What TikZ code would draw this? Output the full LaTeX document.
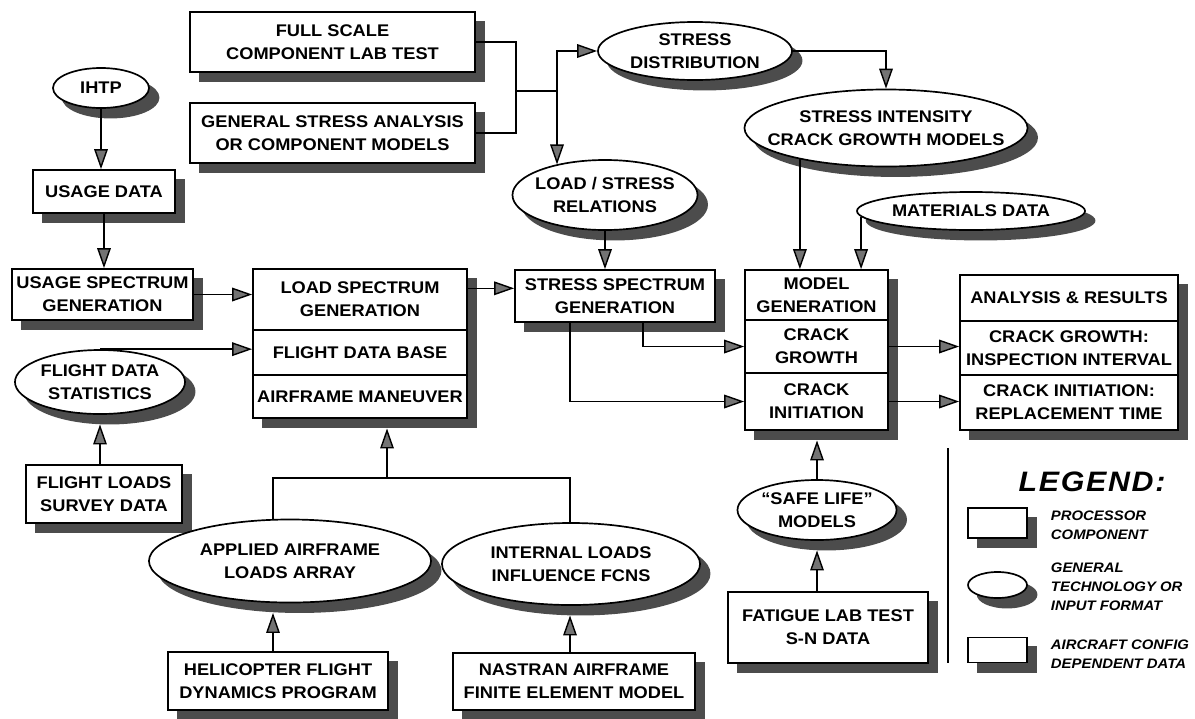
\documentclass[tikz,border=0pt]{standalone}
\usepackage{fontspec}
\setmainfont{Liberation Sans}[FakeStretch=1.08]
\usetikzlibrary{
    arrows.meta,      % For arrow tips
    shapes.geometric, % For the ellipses
    calc,             % For shadow radii
    backgrounds       % For shadows behind the nodes
}

\begin{document}
\begin{tikzpicture}[
    x=0.025cm, y=-0.025cm,
    font=\fontsize{12}{16.5}\selectfont\bfseries,
    >={Triangle[length=5mm, width=3.4mm, fill=black!55]}, % Set default arrow tip style
    shadowfill/.style={fill=black!70},
    box/.style={draw, line width=1.2pt, fill=white, align=center, inner sep=2pt}, % processor
    oval/.style={ellipse, draw, line width=1.2pt, fill=white, inner sep=0pt},   % technology
    txt/.style={align=center},
    link/.style={line width=1pt},
    arr/.style={->, line width=1pt},
    legtext/.style={anchor=west, align=left, font=\fontsize{9.8}{13.5}\selectfont\bfseries\itshape}
]
    \useasboundingbox (0,0) rectangle (1195,718);

    % Stress inputs at the top
    \node[box, minimum width=7.125cm, minimum height=1.5cm] (fst) at (332.5,42) {FULL SCALE\\COMPONENT LAB TEST};
    \node[box, minimum width=7.125cm, minimum height=1.5cm] (gsa) at (332.5,133) {GENERAL STRESS ANALYSIS\\OR COMPONENT MODELS};
    \node[oval, minimum width=4.85cm, minimum height=1.45cm, label={[txt]center:STRESS\\DISTRIBUTION}] (sd) at (695,51) {};
    \node[oval, minimum width=7.075cm, minimum height=1.925cm, label={[txt]center:STRESS INTENSITY\\CRACK GROWTH MODELS}] (si) at (886,128) {};
    \node[oval, minimum width=4.625cm, minimum height=1.75cm, label={[txt]center:LOAD / STRESS\\RELATIONS}] (lsr) at (605,195) {};
    \node[oval, minimum width=5.7cm, minimum height=0.95cm, label={[txt]center:MATERIALS DATA}] (md) at (971,211) {};

    % Usage side
    \node[oval, minimum width=2.4cm, minimum height=1.0cm, label={[txt]center:IHTP}] (ihtp) at (101,88) {};
    \node[box, minimum width=3.55cm, minimum height=1.075cm] (ud) at (104,191.5) {USAGE DATA};
    \node[box, minimum width=4.525cm, minimum height=1.275cm] (usg) at (102.5,294.5) {USAGE SPECTRUM\\GENERATION};
    \node[oval, minimum width=4.25cm, minimum height=1.6cm, label={[txt]center:FLIGHT DATA\\STATISTICS}] (fds) at (100,382) {};
    \node[box, minimum width=3.9cm, minimum height=1.45cm] (fls) at (104,494) {FLIGHT LOADS\\SURVEY DATA};

    % Load spectrum stack
    \node[box, minimum width=5.35cm, minimum height=1.525cm] (lsg) at (360,299.5) {LOAD SPECTRUM\\GENERATION};
    \node[box, minimum width=5.35cm, minimum height=1.125cm] (fdb) at (360,352.5) {FLIGHT DATA BASE};
    \node[box, minimum width=5.35cm, minimum height=1.075cm] (afm) at (360,396.5) {AIRFRAME MANEUVER};

    \node[box, minimum width=5cm, minimum height=1.3cm] (ssg) at (615,296) {STRESS SPECTRUM\\GENERATION};

    % Model stack
    \node[box, minimum width=3.575cm, minimum height=1.25cm] (mg) at (816.5,295) {MODEL\\GENERATION};
    \node[box, minimum width=3.575cm, minimum height=1.325cm] (cg) at (816.5,346.5) {CRACK\\GROWTH};
    \node[box, minimum width=3.575cm, minimum height=1.425cm] (ci) at (816.5,401.5) {CRACK\\INITIATION};

    % Results stack
    \node[box, minimum width=5.45cm, minimum height=1.15cm] (ar) at (1069,298) {ANALYSIS \& RESULTS};
    \node[box, minimum width=5.45cm, minimum height=1.35cm] (cgi) at (1069,348) {CRACK GROWTH:\\INSPECTION INTERVAL};
    \node[box, minimum width=5.45cm, minimum height=1.375cm] (cir) at (1069,402.5) {CRACK INITIATION:\\REPLACEMENT TIME};

    % Airframe loads at the bottom
    \node[oval, minimum width=7.05cm, minimum height=2.075cm, label={[txt]center:APPLIED AIRFRAME\\LOADS ARRAY}] (apl) at (290,561) {};
    \node[oval, minimum width=6.45cm, minimum height=2.05cm, label={[txt]center:INTERNAL LOADS\\INFLUENCE FCNS}] (ilf) at (571,564) {};
    \node[box, minimum width=5.5cm, minimum height=1.45cm] (hfd) at (278,681) {HELICOPTER FLIGHT\\DYNAMICS PROGRAM};
    \node[box, minimum width=6.05cm, minimum height=1.425cm] (naf) at (574,681.5) {NASTRAN AIRFRAME\\FINITE ELEMENT MODEL};

    % Fatigue data
    \node[oval, minimum width=3.975cm, minimum height=1.5cm, label={[txt]center:``SAFE LIFE''\\MODELS}] (slm) at (817,510) {};
    \node[box, minimum width=5cm, minimum height=1.775cm] (flt) at (828,627.5) {FATIGUE LAB TEST\\S-N DATA};

    % Legend
    \draw[link] (948,448) -- (948,663);
    \node[font=\fontsize{20}{24}\selectfont\bfseries\itshape\addfontfeature{LetterSpace=6}] (leg) at (1092,482) {LEGEND:};
    \node[box, minimum width=1.475cm, minimum height=0.75cm] (lg1) at (997.5,523) {};
    \node[oval, minimum width=1.475cm, minimum height=0.65cm] (lg2) at (997.5,585) {};
    \node[box, minimum width=1.475cm, minimum height=0.625cm] (lg3) at (997.5,650) {};
    \node[legtext] (lt1) at (1046,525) {PROCESSOR\\COMPONENT};
    \node[legtext] (lt2) at (1046,587) {GENERAL\\TECHNOLOGY OR\\INPUT FORMAT};
    \node[legtext] (lt3) at (1046,654) {AIRCRAFT CONFIG\\DEPENDENT DATA};

    % Shadows
    \begin{scope}[on background layer]
        \foreach \e in {fst,gsa,ud,usg,fls,ssg,hfd,naf,flt,lg1,lg3}
            \fill[shadowfill] ([shift={(0.24cm,-0.24cm)}]\e.south west) rectangle ([shift={(0.24cm,-0.24cm)}]\e.north east);
        \fill[shadowfill] ([shift={(0.24cm,-0.24cm)}]afm.south west) rectangle ([shift={(0.24cm,-0.24cm)}]lsg.north east);
        \fill[shadowfill] ([shift={(0.24cm,-0.24cm)}]ci.south west) rectangle ([shift={(0.24cm,-0.24cm)}]mg.north east);
        \fill[shadowfill] ([shift={(0.24cm,-0.24cm)}]cir.south west) rectangle ([shift={(0.24cm,-0.24cm)}]ar.north east);
        \foreach \e in {sd,si,lsr,md,ihtp,fds,apl,ilf,slm,lg2}
            \fill[shadowfill] let \p1=($(\e.east)-(\e.center)$), \p2=($(\e.north)-(\e.center)$) in
                ([shift={(0.24cm,-0.24cm)}]\e.center) ellipse [x radius=\x1, y radius=\y2];
    \end{scope}

    % Connectors, top part
    \coordinate (jn) at (516,91);
    \coordinate (up) at (557,91);
    \draw[link] (fst.east) -| (jn) |- (gsa.east);
    \draw[link] (jn) -- (up);
    \draw[arr] (up) |- (sd.west);
    \draw[arr] (up) -- (up |- lsr.148);
    \draw[arr] (sd.east) -| (si.north);
    \draw[arr] (si.200) -- (si.200 |- mg.north);
    \draw[arr] (md.183) -- (md.183 |- mg.north);
    \draw[arr] (lsr.south) -- (lsr.south |- ssg.north);

    % Connectors, usage side
    \coordinate (fdsb) at ([yshift=-0.24cm]fds.south);
    \draw[arr] (ihtp.south) -- (ihtp.south |- ud.north);
    \draw[arr] (ud.south) -- (ud.south |- usg.north);
    \draw[arr] (usg.east) -- (usg.east -| lsg.west);
    \draw[arr] (fds.north) -- (fds.north -| fdb.west);
    \draw[arr] (fds.south |- fls.north) -- (fdsb);

    % Connectors, middle
    \coordinate (lse) at ([yshift=0.28cm]lsg.east);
    \draw[arr] (lse) -- (lse -| ssg.west);
    \draw[arr] ([xshift=0.7cm]ssg.south) |- (cg.west);
    \draw[arr] ([xshift=-1.125cm]ssg.south) |- (ci.west);
    \draw[arr] (cg.east) -- (cg.east -| cgi.west);
    \draw[arr] (ci.east) -- (ci.east -| cir.west);

    % Connectors, bottom
    \coordinate (jl) at (273,478);
    \coordinate (jm) at (387,478);
    \coordinate (jr) at (570,478);
    \coordinate (afb) at ([yshift=-0.24cm]afm.south);
    \coordinate (aplb) at ([yshift=-0.24cm]apl.south);
    \coordinate (ilfb) at ([yshift=-0.24cm]ilf.south);
    \coordinate (cib) at ([yshift=-0.24cm]ci.south);
    \coordinate (slmb) at ([yshift=-0.24cm]slm.south);
    \draw[link] (jl |- apl.north) -- (jl) -- (jr) -- (jr |- ilf.north);
    \draw[arr] (jm) -- (jm |- afb);
    \draw[arr] (jl |- hfd.north) -- (jl |- aplb);
    \draw[arr] (jr |- naf.north) -- (jr |- ilfb);
    \draw[arr] (slm.north) -- (slm.north |- cib);
    \draw[arr] (slm.south |- flt.north) -- (slmb);

\end{tikzpicture}
\end{document}
